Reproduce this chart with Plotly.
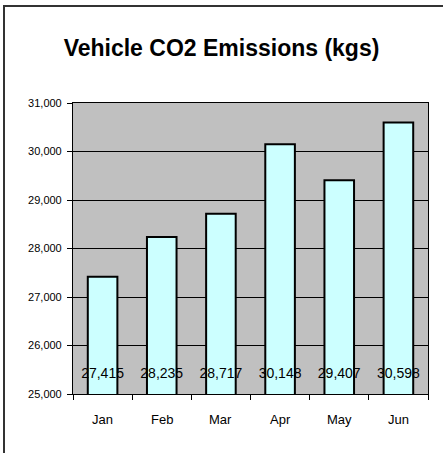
import plotly.graph_objects as go

months = ["Jan", "Feb", "Mar", "Apr", "May", "Jun"]
emissions = [27415, 28235, 28717, 30148, 29407, 30598]
label_level = [25400] * len(months)

W, H = 443, 453
L, R, T, B = 73, 15, 103, 59
pw, ph = W - L - R, H - T - B

fig = go.Figure()
fig.add_trace(go.Bar(
    x=months, y=emissions, base=0,
    marker=dict(color="#CCFFFF", line=dict(color="black", width=2)),
    hoverinfo="x+y",
))
fig.add_trace(go.Scatter(
    x=months, y=label_level, mode="text",
    text=[f"{v:,}" for v in emissions],
    textfont=dict(family="Liberation Sans, Arial", size=14, color="black"),
    hoverinfo="skip",
))

# month labels below the axis, placed on the category axis
for m in months:
    fig.add_annotation(x=m, xref="x", y=0, yref="paper", yanchor="middle",
                       yshift=-25, text=m, showarrow=False,
                       font=dict(family="Liberation Sans, Arial", size=13, color="black"))

def px_x(p):
    return (p - L) / pw

def px_y(p):
    return (H - B - p) / ph

fig.add_shape(type="rect", xref="paper", yref="paper",
              x0=px_x(4), x1=px_x(460), y0=px_y(6), y1=px_y(470),
              line=dict(color="#333333", width=2), fillcolor="rgba(0,0,0,0)",
              layer="above")

fig.update_layout(
    width=W, height=H,
    margin=dict(l=L, r=R, t=T, b=B, autoexpand=False),
    paper_bgcolor="white", plot_bgcolor="#C0C0C0",
    showlegend=False, bargap=0.5,
    font=dict(family="Liberation Sans, Arial", color="black"),
    title=dict(text="<b>Vehicle CO2 Emissions (kgs)</b>", x=0.5, xref="container",
               xanchor="center",
               y=1 - 48 / H, yref="container", yanchor="middle",
               font=dict(size=23, color="black")),
    xaxis=dict(type="category", range=[-0.5, len(months) - 0.5], autorange=False,
               tickson="boundaries", ticks="outside", ticklen=5,
               tickcolor="black", showgrid=False, showline=True, linecolor="black",
               linewidth=1, mirror=True, showticklabels=False),
    yaxis=dict(range=[25000, 31000], dtick=1000, tickformat=",", ticks="outside",
               ticklen=5, tickcolor="black", showgrid=True, gridcolor="black",
               gridwidth=1, showline=True, linecolor="black", linewidth=1,
               mirror=True, zeroline=False, tickfont=dict(size=11),
               ticksuffix="\u00a0"),
)

fig.write_html("out.html", config={"displayModeBar": False},
               post_script="document.body.style.margin='0';document.body.style.padding='0';")
